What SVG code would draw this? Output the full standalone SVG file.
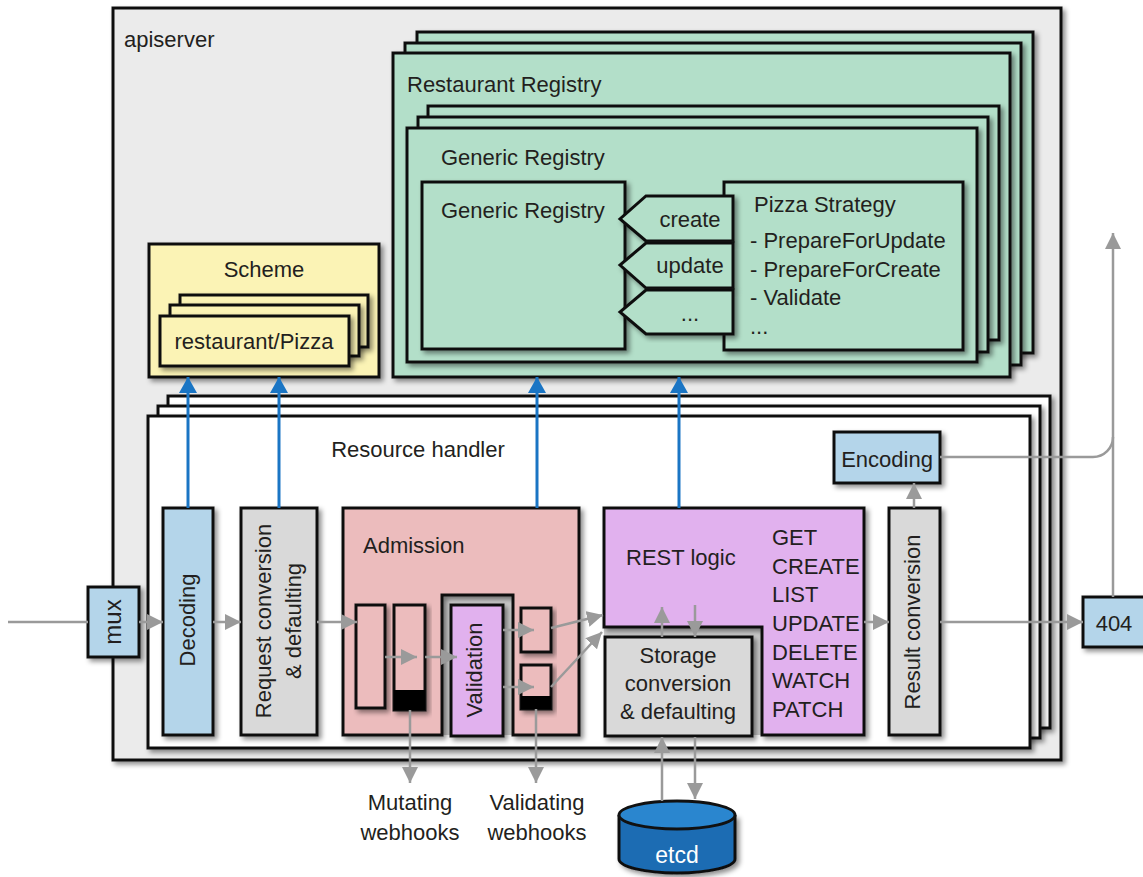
<svg xmlns="http://www.w3.org/2000/svg" width="1143" height="877" viewBox="0 0 1143 877">
<defs>
<filter id="sh" x="-10%" y="-10%" width="130%" height="130%">
<feDropShadow dx="3" dy="3" stdDeviation="2.5" flood-color="#000" flood-opacity="0.45"/>
</filter>
<marker id="ag" markerUnits="userSpaceOnUse" markerWidth="18" markerHeight="18" refX="16" refY="8" orient="auto"><path d="M0,0 L16,8 L0,16 Z" fill="#9a9a9a"/></marker>
<marker id="ab" markerUnits="userSpaceOnUse" markerWidth="20" markerHeight="20" refX="16" refY="9" orient="auto"><path d="M0,0 L16,9 L0,18 Z" fill="#1a75c4"/></marker>
<style>
.b{stroke:#111;stroke-width:3;filter:url(#sh)}
.t{font-family:"Liberation Sans",Arial,sans-serif;font-size:22px;fill:#231f20}
.m{text-anchor:middle}
.grey{fill:#d9d9d9}
.blue{fill:#b4d5ea}
.green{fill:#b3dfc9}
.pink{fill:#ecbcbd}
.purp{fill:#e1b1ee}
.yel{fill:#fbf3b5}
.ca{fill:none;stroke:#9a9a9a;stroke-width:2.5;marker-end:url(#ag)}
.cl{fill:none;stroke:#9a9a9a;stroke-width:2.5}
.cb{fill:none;stroke:#1a75c4;stroke-width:3;marker-end:url(#ab)}
</style>
</defs>

<g id="apiserver">
<rect x="113" y="8" width="948" height="752" fill="#ebebeb" class="b"/>
<text class="t" x="124" y="47">apiserver</text>
</g>

<g id="scheme">
<rect x="149" y="244" width="230" height="133" class="b yel"/>
<text class="t m" x="264" y="277">Scheme</text>
<rect x="180" y="295" width="188" height="52" class="b yel"/>
<rect x="170" y="305" width="189" height="51" class="b yel"/>
<rect x="160" y="316" width="189" height="50" class="b yel"/>
<text class="t m" x="254" y="349">restaurant/Pizza</text>
</g>

<g id="restaurant-registry">
<rect x="417" y="32" width="616" height="321" class="b green"/>
<rect x="405" y="43" width="616" height="322" class="b green"/>
<rect x="393" y="53" width="617" height="324" class="b green"/>
<text class="t" x="407" y="92">Restaurant Registry</text>
</g>

<g id="generic-registry-outer">
<rect x="428" y="106" width="571" height="234" class="b green"/>
<rect x="418" y="117" width="570" height="235" class="b green"/>
<rect x="407" y="128" width="570" height="234" class="b green"/>
<text class="t" x="441" y="165">Generic Registry</text>
</g>

<g id="generic-registry-inner">
<rect x="422" y="182" width="203" height="167" class="b green"/>
<text class="t" x="441" y="218">Generic Registry</text>
</g>

<g id="pizza-strategy">
<rect x="724" y="182" width="239" height="168" class="b green"/>
<text class="t" x="754" y="212">Pizza Strategy</text>
<text class="t" x="750" y="248">- PrepareForUpdate</text>
<text class="t" x="750" y="277">- PrepareForCreate</text>
<text class="t" x="750" y="305">- Validate</text>
<text class="t" x="750" y="334">...</text>
</g>

<g id="tab-create">
<path d="M646,196 H733 V241 H646 L620,219 Z" class="b green"/>
<text class="t m" x="690" y="227">create</text>
</g>
<g id="tab-update">
<path d="M646,243 H733 V288 H646 L620,265 Z" class="b green"/>
<text class="t m" x="690" y="273">update</text>
</g>
<g id="tab-more">
<path d="M646,290 H733 V334 H646 L620,312 Z" class="b green"/>
<text class="t m" x="690" y="321">...</text>
</g>

<g id="resource-handler">
<rect x="168" y="396" width="882" height="332" fill="#fff" class="b"/>
<rect x="158" y="406" width="882" height="332" fill="#fff" class="b"/>
<rect x="148" y="416" width="882" height="332" fill="#fff" class="b"/>
<text class="t m" x="418" y="457">Resource handler</text>
</g>

<g id="mux">
<rect x="88" y="587" width="51" height="70" class="b blue"/>
<text class="t m" transform="translate(121,622) rotate(-90)" style="font-size:24px">mux</text>
</g>

<g id="decoding">
<rect x="163" y="508" width="50" height="227" class="b blue"/>
<text class="t m" transform="translate(195,620) rotate(-90)">Decoding</text>
</g>

<g id="request-conversion">
<rect x="241" y="508" width="76" height="227" class="b grey"/>
<text class="t m" transform="translate(271,621) rotate(-90)">Request conversion</text>
<text class="t m" transform="translate(301,621) rotate(-90)">&amp; defaulting</text>
</g>

<g id="admission">
<rect x="442" y="595" width="71" height="140" fill="#cccccc"/>
<path d="M343,508 H579 V735 H513 V595 H442 V735 H343 Z" class="b pink"/>
<text class="t" x="363" y="553">Admission</text>
<rect x="356" y="605" width="29" height="103" class="b pink"/>
<rect x="394" y="605" width="31" height="105" class="b pink"/>
<rect x="394" y="690" width="31" height="20" fill="#000"/>
<rect x="521" y="608" width="30" height="44" class="b pink"/>
<rect x="521" y="665" width="30" height="44" class="b pink"/>
<rect x="521" y="696" width="30" height="13" fill="#000"/>
</g>

<g id="validation">
<rect x="451" y="605" width="52" height="131" class="b purp"/>
<text class="t m" transform="translate(482,670) rotate(-90)">Validation</text>
</g>

<g id="rest-logic">
<rect x="604" y="627" width="158" height="108" fill="#cccccc"/>
<path d="M604,508 H864 V735 H762 V627 H604 Z" class="b purp"/>
<text class="t" x="626" y="565">REST logic</text>
<text class="t" x="772" y="545">GET</text>
<text class="t" x="772" y="574">CREATE</text>
<text class="t" x="772" y="602">LIST</text>
<text class="t" x="772" y="631">UPDATE</text>
<text class="t" x="772" y="660">DELETE</text>
<text class="t" x="772" y="688">WATCH</text>
<text class="t" x="772" y="717">PATCH</text>
</g>

<g id="storage-conversion">
<rect x="605" y="637" width="147" height="99" class="b grey"/>
<text class="t m" x="678" y="663">Storage</text>
<text class="t m" x="678" y="691">conversion</text>
<text class="t m" x="678" y="719">&amp; defaulting</text>
</g>

<g id="result-conversion">
<rect x="889" y="508" width="51" height="227" class="b grey"/>
<text class="t m" transform="translate(920,622) rotate(-90)">Result conversion</text>
</g>

<g id="encoding">
<rect x="834" y="432" width="106" height="51" class="b blue"/>
<text class="t m" x="887" y="467">Encoding</text>
</g>

<g id="notfound">
<rect x="1083" y="597" width="64" height="50" class="b blue"/>
<text class="t m" x="1114" y="631">404</text>
</g>

<g id="etcd">
<path d="M619,815 V859 A58,14 0 0 0 735,859 V815" fill="#1b6cb3" stroke="#111" stroke-width="3" filter="url(#sh)"/>
<ellipse cx="677" cy="815" rx="58" ry="14" fill="#2a86cf" stroke="#111" stroke-width="3"/>
<text class="t m" x="677" y="863" style="fill:#fff;font-size:23px">etcd</text>
</g>

<g id="webhook-labels">
<text class="t m" x="410" y="810">Mutating</text>
<text class="t m" x="410" y="840">webhooks</text>
<text class="t m" x="537" y="810">Validating</text>
<text class="t m" x="537" y="840">webhooks</text>
</g>

<g id="connectors">
<line x1="8" y1="622" x2="88" y2="622" class="cl"/>
<line x1="139" y1="622" x2="163" y2="622" class="ca"/>
<line x1="213" y1="622" x2="241" y2="622" class="ca"/>
<line x1="317" y1="622" x2="357" y2="622" class="ca"/>
<line x1="385" y1="657" x2="417" y2="657" class="ca"/>
<line x1="425" y1="657" x2="457" y2="657" class="ca"/>
<line x1="503" y1="630" x2="534" y2="630" class="ca"/>
<line x1="503" y1="687" x2="534" y2="687" class="ca"/>
<line x1="551" y1="628" x2="603" y2="615" class="ca"/>
<line x1="551" y1="687" x2="602" y2="632" class="ca"/>
<line x1="662" y1="637" x2="662" y2="607" class="ca"/>
<line x1="695" y1="605" x2="695" y2="637" class="ca"/>
<line x1="662" y1="801" x2="662" y2="737" class="ca"/>
<line x1="695" y1="737" x2="695" y2="799" class="ca"/>
<line x1="410" y1="710" x2="410" y2="783" class="ca"/>
<line x1="536" y1="709" x2="536" y2="783" class="ca"/>
<line x1="864" y1="622" x2="889" y2="622" class="ca"/>
<line x1="914" y1="508" x2="914" y2="483" class="ca"/>
<line x1="940" y1="622" x2="1083" y2="622" class="ca"/>
<path d="M940,457 H1093 A20,20 0 0 0 1113,437" class="cl"/>
<line x1="1113" y1="597" x2="1113" y2="233" class="ca"/>
<line x1="188" y1="508" x2="188" y2="377" class="cb"/>
<line x1="279" y1="508" x2="279" y2="377" class="cb"/>
<line x1="537" y1="508" x2="537" y2="377" class="cb"/>
<line x1="679" y1="508" x2="679" y2="377" class="cb"/>
</g>
</svg>
